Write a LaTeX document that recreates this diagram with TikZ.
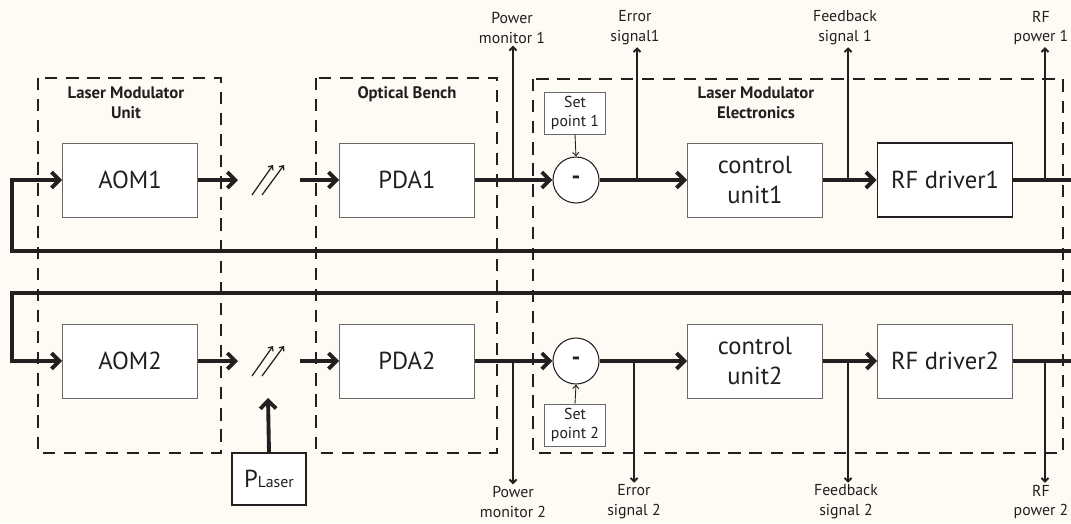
\documentclass[tikz,border=0pt]{standalone}
\usepackage{fontspec}
\setmainfont{PT Sans}
\usetikzlibrary{arrows.meta, calc}

\definecolor{paper}{RGB}{253,251,244}
\definecolor{ink}{RGB}{35,31,32}
\definecolor{boxgray}{RGB}{105,105,105}

\newcommand{\blockfont}{\fontsize{14}{17}\selectfont}
\newcommand{\grpfont}{\fontsize{9.5}{11.3}\selectfont}
\newcommand{\sigfont}{\fontsize{9}{11.3}\selectfont}

\begin{document}
\begin{tikzpicture}[
          x=0.2mm, y=-0.2mm,
          block/.style={rectangle, draw=boxgray, fill=white, line width=0.5pt, minimum width=27mm, minimum height=14.8mm, align=center, text=ink, font=\blockfont},
          setbox/.style={rectangle, draw=boxgray, fill=white, line width=0.5pt, minimum width=12.2mm, minimum height=8.4mm, inner sep=0pt, align=center, text=ink, font=\sigfont},
          sumnode/.style={circle, draw=ink, fill=white, line width=0.6pt, minimum size=9.2mm, inner sep=0pt, text=ink, font=\blockfont\bfseries},
          group/.style={draw=ink, line width=0.9pt, dash pattern=on 7pt off 5pt},
          grouplbl/.style={align=center, text=ink, font=\grpfont\bfseries, inner sep=0pt},
          siglbl/.style={align=center, text=ink, font=\sigfont, inner sep=1pt},
          bus/.style={draw=ink, line width=2.2pt},
          busarrow/.style={bus, -{Straight Barb[length=4.5pt, width=9pt]}},
          tap/.style={draw=ink, line width=1.1pt, -{Straight Barb[length=2pt, width=4pt]}},
          fine/.style={draw=ink, line width=0.5pt, -{Straight Barb[length=2pt, width=3.5pt]}}
        ]
          \useasboundingbox (0,0) rectangle (1071,523);
          \fill[paper] (0,0) rectangle (1071,523);
          \clip (0,0) rectangle (1071,523);

          % Dashed groups
          \draw[group] (38,78) rectangle (221,453);
          \draw[group] (316,78) rectangle (497,453);
          \draw[group] (533,79) rectangle (1063,453);
          \node[grouplbl] (lmu) at (126,103) {Laser Modulator\\Unit};
          \node[grouplbl] (ob) at (407,94) {Optical Bench};
          \node[grouplbl] (lme) at (756,103) {Laser Modulator\\Electronics};

          % Channel 1
          \node[block] (aom1) at (130,180) {AOM1};
          \node[block] (pda1) at (407,180) {PDA1};
          \node[sumnode] (sum1) at (576,180) {-};
          \node[setbox] (sp1) at (575,113) {Set\\point 1};
          \node[block] (cu1) at (755,180) {control\\unit1};
          \node[block, draw=ink, line width=1.1pt] (rf1) at (945,180) {RF driver1};

          % Channel 2
          \node[block] (aom2) at (130,361) {AOM2};
          \node[block] (pda2) at (407,361) {PDA2};
          \node[sumnode] (sum2) at (576,361) {-};
          \node[setbox] (sp2) at (575,425) {Set\\point 2};
          \node[block] (cu2) at (755,361) {control\\unit2};
          \node[block] (rf2) at (945,361) {RF driver2};

          \node[rectangle, draw=ink, fill=white, line width=0.8pt, minimum width=14.8mm, minimum height=10.4mm, text=ink] (plaser) at (269,479) {{\blockfont P}{\sigfont Laser}};

          % Monitor outputs
          \node[siglbl] (pm1) at (512,28) {Power\\monitor 1};
          \node[siglbl] (err1) at (635,28) {Error\\signal1};
          \node[siglbl] (fb1) at (845,28) {Feedback\\signal 1};
          \node[siglbl] (rfp1) at (1041,28) {RF\\power 1};
          \node[siglbl] (pm2) at (513,502) {Power\\monitor 2};
          \node[siglbl] (err2) at (634,502) {Error\\signal 2};
          \node[siglbl] (fb2) at (846,502) {Feedback\\signal 2};
          \node[siglbl] (rfp2) at (1041,502) {RF\\power 2};

          % Beam splitters
          \coordinate (bs1) at (268,180);
          \coordinate (bs2) at (268,361);
          \foreach \bs in {bs1, bs2} {
            \draw[fine, line width=0.7pt] ($(\bs)+(-16,15)$) -- ($(\bs)+(5,-15)$);
            \draw[fine, line width=0.7pt] ($(\bs)+(-6,15)$) -- ($(\bs)+(16,-15)$);
          }

          % Optical path
          \draw[busarrow] (aom1.east) -- ($(bs1)+(-30,0)$);
          \draw[busarrow] ($(bs1)+(32,0)$) -- (pda1.west);
          \draw[busarrow] (aom2.east) -- ($(bs2)+(-30,0)$);
          \draw[busarrow] ($(bs2)+(32,0)$) -- (pda2.west);
          \draw[busarrow] (plaser.north) -- ($(bs2)+(0,37)$);

          % Signal chain
          \draw[busarrow] (pda1.east) -- (sum1.west);
          \draw[busarrow] (sum1.east) -- (cu1.west);
          \draw[busarrow] (cu1.east) -- (rf1.west);
          \draw[busarrow] (pda2.east) -- (sum2.west);
          \draw[busarrow] (sum2.east) -- (cu2.west);
          \draw[busarrow] (cu2.east) -- (rf2.west);
          \draw[fine] (sp1.south) -- (sum1.north);
          \draw[fine] (sp2.north) -- (sum2.south);

          % Feedback loops back to the modulators
          \coordinate (out1) at (1080,180);
          \coordinate (ret1) at (1080,251);
          \coordinate (out2) at (1080,361);
          \coordinate (ret2) at (1080,293);
          \draw[bus] (rf1.east) -- (out1);
          \draw[bus] (rf2.east) -- (out2);
          \draw[busarrow] (ret1) -- (12,251) |- (aom1.west);
          \draw[busarrow] (ret2) -- (12,293) |- (aom2.west);

          % Taps
          \foreach \x/\lbl in {513/pm1, 637/err1, 848/fb1, 1045/rfp1} {
            \coordinate (t) at (\x,180);
            \draw[tap] (t) -- (t |- \lbl.south);
          }
          \foreach \x/\lbl in {513/pm2, 634/err2, 848/fb2, 1045/rfp2} {
            \coordinate (t) at (\x,361);
            \draw[tap] (t) -- (t |- \lbl.north);
          }
        \end{tikzpicture}
\end{document}
